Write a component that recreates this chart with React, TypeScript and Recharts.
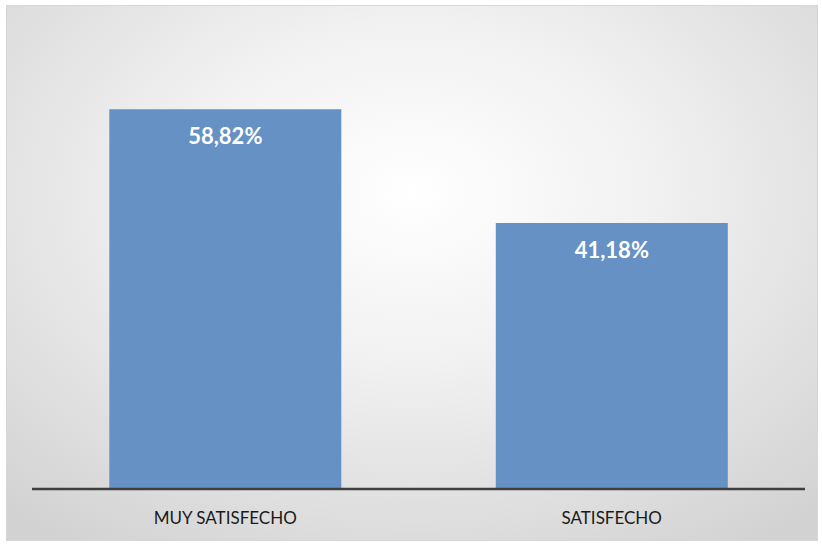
import React from 'react';
import { BarChart, Bar, XAxis, YAxis, LabelList } from 'recharts';

const categories = ['MUY SATISFECHO', 'SATISFECHO'];
const percentages = [58.82, 41.18];

const chartData = categories.map((name, i) => ({ name, value: percentages[i] }));

const formatPct = (v: number) => `${v.toFixed(2).replace('.', ',')}%`;

const App: React.FC = () => {
  return (
    <div style={{ position: 'fixed', left: 0, top: 0, width: 822, height: 544, background: '#ffffff' }}>
      <div
        style={{
          position: 'absolute',
          left: 6,
          top: 5,
          width: 812,
          height: 536,
          boxSizing: 'border-box',
          border: '1px solid #d6d6d6',
          background: 'radial-gradient(ellipse 75% 80% at 50% 35%, #ffffff 0%, #f1f1f1 40%, #d2d2d2 100%)',
        }}
      />
      <div style={{ position: 'absolute', left: 0, top: 0 }}>
        <BarChart
          width={822}
          height={544}
          data={chartData}
          margin={{ top: 37, right: 17, left: 32, bottom: 20 }}
          barCategoryGap="20%"
        >
          <XAxis
            dataKey="name"
            height={35}
            axisLine={{ stroke: '#3f3f3f', strokeWidth: 2.5 }}
            tickLine={false}
            tickSize={0}
            tickMargin={23}
            tick={{ fill: '#1a1a1a', fontSize: 17, fontFamily: 'Lato, "Open Sans", sans-serif' }}
          />
          <YAxis hide domain={[0, 70]} />
          <Bar dataKey="value" fill="#6591c5" isAnimationActive={false}>
            <LabelList
              dataKey="value"
              position="insideTop"
              offset={19}
              formatter={(v: any) => formatPct(Number(v))}
              style={{ fill: '#ffffff', fontSize: 22, fontWeight: 700, fontFamily: 'Lato, "Open Sans", sans-serif' }}
            />
          </Bar>
        </BarChart>
      </div>
    </div>
  );
};

export default App;
